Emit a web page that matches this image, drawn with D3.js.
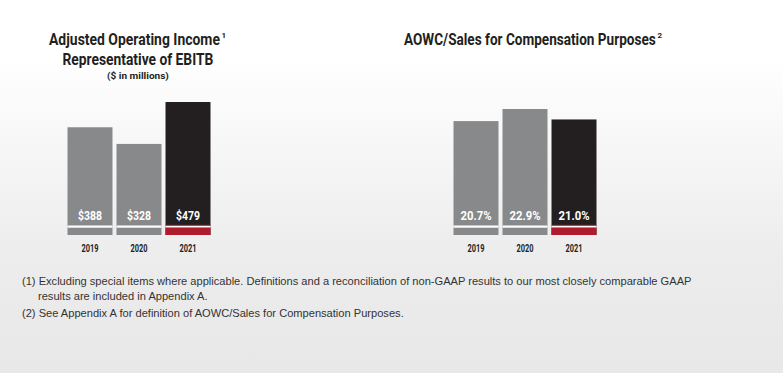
<!DOCTYPE html>
<html>
    <head>
        <script src="https://cdn.jsdelivr.net/npm/d3@7/dist/d3.min.js" charset="utf-8"></script>
        <style>
            body { margin: 0; }
            .title { font-family: Roboto, "DejaVu Sans", sans-serif; font-weight: bold; fill: #231f20; }
            .note { font-family: "Liberation Sans", Arial, sans-serif; font-size: 11.1px; fill: #333333; }
        </style>
    </head>
    <body>
        <script>
            var w = 783;
            var h = 373;

            // data
            var years = ["2019", "2020", "2021"];
            var incomeValues = [388, 328, 479];
            var incomeLabels = ["$388", "$328", "$479"];
            var aowcValues = [20.7, 22.9, 21.0];
            var aowcLabels = ["20.7%", "22.9%", "21.0%"];

            var grey = "#88898b";
            var black = "#231f20";
            var red = "#b01c2e";

            var svg = d3.select("body")
                        .append("svg")
                        .attr("width", w)
                        .attr("height", h);

            // background gradient
            var grad = svg.append("defs")
                          .append("linearGradient")
                          .attr("id", "bg")
                          .attr("x1", 0).attr("y1", 0)
                          .attr("x2", 0).attr("y2", 1);
            grad.append("stop").attr("offset", "0%").attr("stop-color", "#ffffff");
            grad.append("stop").attr("offset", "15%").attr("stop-color", "#ffffff");
            grad.append("stop").attr("offset", "70%").attr("stop-color", "#ececec");
            grad.append("stop").attr("offset", "100%").attr("stop-color", "#e8e8e9");

            svg.append("rect")
               .attr("width", w)
               .attr("height", h)
               .attr("fill", "url(#bg)");

            var base = 235;

            //draws one bar chart
            function drawBars(x0, x1, values, labels, yMax, yTop, labelW) {
                var x = d3.scaleBand()
                          .domain(years)
                          .range([x0, x1])
                          .paddingInner(0.082);
                var y = d3.scaleLinear()
                          .domain([0, yMax])
                          .range([base, yTop]);

                var g = svg.append("g");
                var data = years.map((yr, i) => ({year: yr, v: values[i], label: labels[i], last: i == years.length - 1}));

                g.selectAll(".bar")
                 .data(data)
                 .enter()
                 .append("rect")
                 .attr("x", d => x(d.year))
                 .attr("y", d => y(d.v))
                 .attr("width", x.bandwidth())
                 .attr("height", d => base - y(d.v))
                 .attr("fill", d => d.last ? black : grey);

                // white separator + bottom strip
                g.selectAll(".sep")
                 .data(data)
                 .enter()
                 .append("rect")
                 .attr("x", d => x(d.year))
                 .attr("y", 225.5)
                 .attr("width", x.bandwidth())
                 .attr("height", 2.2)
                 .attr("fill", "#ffffff");

                g.selectAll(".strip")
                 .data(data.filter(d => d.last))
                 .enter()
                 .append("rect")
                 .attr("x", d => x(d.year))
                 .attr("y", 227.7)
                 .attr("width", x.bandwidth())
                 .attr("height", base - 227.7)
                 .attr("fill", red);

                g.selectAll(".redline")
                 .data(data.filter(d => d.last))
                 .enter()
                 .append("rect")
                 .attr("x", d => x(d.year))
                 .attr("y", 224.8)
                 .attr("width", x.bandwidth())
                 .attr("height", 0.8)
                 .attr("fill", red);

                g.selectAll(".val")
                 .data(data)
                 .enter()
                 .append("text")
                 .attr("class", "title")
                 .attr("x", d => x(d.year) + x.bandwidth() / 2)
                 .attr("y", 220)
                 .attr("text-anchor", "middle")
                 .attr("font-size", "13.5px")
                 .attr("textLength", labelW)
                 .attr("lengthAdjust", "spacingAndGlyphs")
                 .style("fill", "#ffffff")
                 .text(d => d.label);

                var xAxis = g.append("g")
                             .attr("transform", "translate(0," + base + ")")
                             .call(d3.axisBottom(x).tickSize(0).tickPadding(0));
                xAxis.select(".domain").remove();
                xAxis.selectAll("text")
                     .attr("class", "title")
                     .attr("dy", null)
                     .attr("y", 16.5)
                     .attr("font-size", "10px")
                     .attr("textLength", 17)
                     .attr("lengthAdjust", "spacingAndGlyphs");
            }

            drawBars(67.5, 210.5, incomeValues, incomeLabels, 479, 102, 24);
            drawBars(453.5, 596.5, aowcValues, aowcLabels, 22.9, 109, 31);

            // titles: squeezed horizontally with a scale so the font looks condensed
            function title(x0, y, size, len, txt, sup) {
                var g = svg.append("g");
                var t = g.append("text")
                         .attr("class", "title")
                         .attr("font-size", size + "px")
                         .text(txt);
                var nat = t.node().getComputedTextLength();
                g.attr("transform", "translate(" + x0 + "," + y + ") scale(" + (len / nat) + ",1)");
                if (sup) {
                    svg.append("text")
                       .attr("class", "title")
                       .attr("x", x0 + len + 1.5)
                       .attr("y", y - size * 0.42)
                       .attr("font-size", (size * 0.5) + "px")
                       .text(sup);
                }
            }
            title(49, 45, 16, 171, "Adjusted Operating Income", "1");
            title(62.5, 65, 16, 151, "Representative of EBITB");
            title(107, 79, 9.5, 62, "($ in millions)");
            title(404, 45, 16, 252, "AOWC/Sales for Compensation Purposes", "2");

            // footnotes
            var notes = [
                {x: 22, y: 285, t: "(1) Excluding special items where applicable. Definitions and a reconciliation of non-GAAP results to our most closely comparable GAAP"},
                {x: 38, y: 300, t: "results are included in Appendix A."},
                {x: 22, y: 317, t: "(2) See Appendix A for definition of AOWC/Sales for Compensation Purposes."}
            ];
            svg.selectAll(".note")
               .data(notes)
               .enter()
               .append("text")
               .attr("class", "note")
               .attr("x", d => d.x)
               .attr("y", d => d.y)
               .text(d => d.t);
        </script>
    </body>
</html>
